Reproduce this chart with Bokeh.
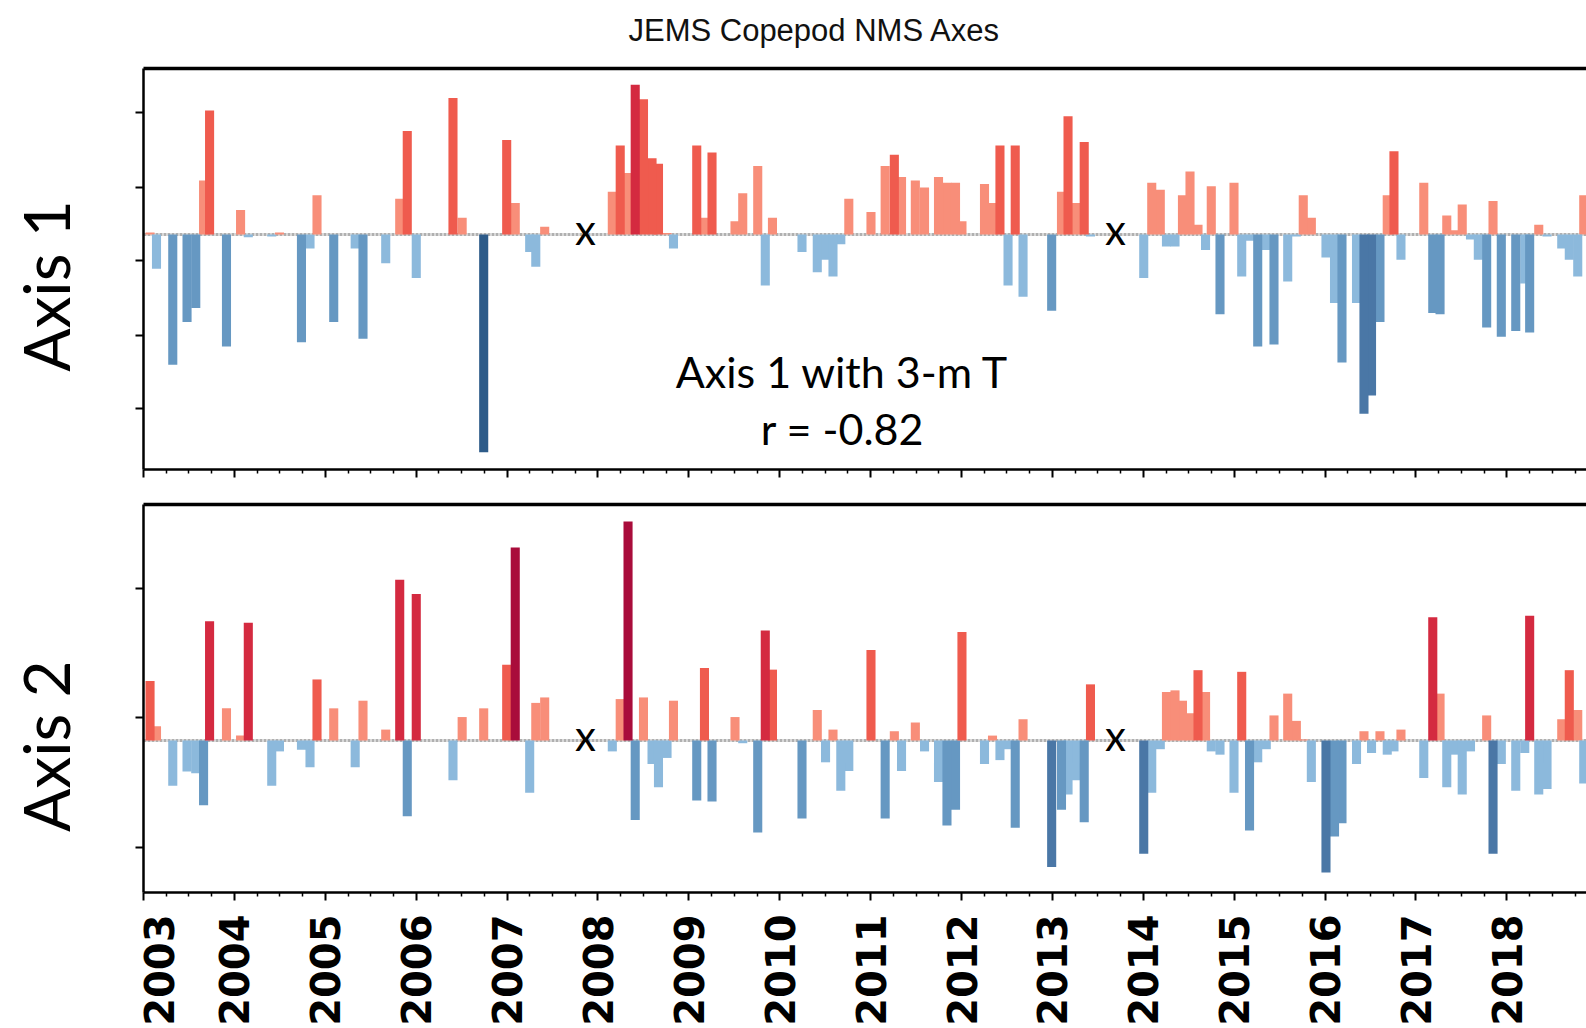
from math import pi

from bokeh.core.properties import value
from bokeh.embed import file_html
from bokeh.layouts import column, row
from bokeh.models import (ColumnDataSource, FixedTicker, Label, LinearAxis,
                          Range1d, Span)
from bokeh.plotting import figure
from bokeh.resources import INLINE

# ---- data: cruise sample dates (decimal years) and NMS scores ----
sample_dates = [
    2003.072, 2003.143, 2003.322, 2003.479, 2003.575, 2003.661, 2003.727, 2003.913,
    2004.068, 2004.153, 2004.411, 2004.496, 2004.738, 2004.832, 2004.909,
    2005.093, 2005.329, 2005.415, 2005.665, 2005.819, 2005.902,
    2006.001, 2006.405, 2006.506, 2006.743, 2006.996,
    2007.090, 2007.249, 2007.316, 2007.414,
    2008.158, 2008.245, 2008.331, 2008.410, 2008.501, 2008.595, 2008.666, 2008.760, 2008.831,
    2009.087, 2009.172, 2009.255, 2009.508, 2009.593, 2009.758, 2009.841, 2009.920,
    2010.245, 2010.413, 2010.504, 2010.586, 2010.672, 2010.760,
    2011.004, 2011.160, 2011.261, 2011.340, 2011.492, 2011.593, 2011.747, 2011.840, 2011.934,
    2012.005, 2012.253, 2012.341, 2012.423, 2012.512, 2012.591, 2012.677, 2012.992,
    2013.100, 2013.172, 2013.265, 2013.350, 2013.419,
    2014.005, 2014.093, 2014.187, 2014.255, 2014.349, 2014.431, 2014.514, 2014.602,
    2014.685, 2014.748, 2014.844, 2014.998,
    2015.083, 2015.169, 2015.259, 2015.353, 2015.438, 2015.589, 2015.684, 2015.760, 2015.849,
    2016.010, 2016.104, 2016.186, 2016.346, 2016.428, 2016.511, 2016.604, 2016.684, 2016.758,
    2016.835,
    2017.086, 2017.185, 2017.265, 2017.339, 2017.430, 2017.509, 2017.600, 2017.686, 2017.778,
    2017.848, 2017.939,
    2018.098, 2018.197, 2018.251, 2018.351, 2018.442, 2018.604, 2018.687, 2018.780, 2018.846,
]

axis1_scores = [
    0.03, -0.49, -1.86, -1.25, -1.05, 0.77, 1.77, -1.60,
    0.35, -0.04, -0.03, 0.03, -1.54, -0.20, 0.56,
    -1.25, -0.20, -1.49, -0.41, 0.51, 1.48,
    -0.62, 1.95, 0.24, -3.11, 1.35,
    0.45, -0.25, -0.46, 0.11,
    0.61, 1.27, 0.88, 2.14, 1.93, 1.09, 1.01, 0.02, -0.20,
    1.27, 0.24, 1.17, 0.19, 0.59, 0.98, -0.73, 0.24,
    -0.25, -0.54, -0.36, -0.60, -0.14, 0.51,
    0.32, 0.98, 1.14, 0.82, 0.77, 0.67, 0.82, 0.74, 0.74,
    0.19, 0.72, 0.45, 1.27, -0.73, 1.27, -0.89, -1.09,
    0.61, 1.69, 0.45, 1.32, -0.03,
    -0.62, 0.74, 0.64, -0.17, -0.17, 0.56, 0.90, 0.14,
    -0.22, 0.69, -1.14, 0.74,
    -0.60, -0.09, -1.60, -0.22, -1.57, -0.67, -0.03, 0.56, 0.24,
    -0.33, -0.98, -1.83, -0.98, -2.56, -2.30, -1.25, 0.56, 1.19,
    -0.36,
    0.74, -1.12, -1.14, 0.27, 0.06, 0.43, -0.07, -0.36, -1.33,
    0.48, -1.46,
    -1.38, -0.70, -1.40, 0.14, -0.03, -0.20, -0.36, -0.60, 0.56,
]

axis2_scores = [
    1.09, 0.26, -0.83, -0.57, -0.60, -1.19, 2.19, 0.59,
    0.09, 2.16, -0.83, -0.20, -0.17, -0.49, 1.12,
    0.59, -0.49, 0.73, 0.20, 2.95, -1.39,
    2.69, -0.73, 0.43, 0.59, 1.39,
    3.54, -0.96, 0.69, 0.79,
    -0.20, 0.76, 4.02, -1.46, 0.79, -0.43, -0.86, -0.32, 0.73,
    -1.10, 1.33, -1.12, 0.43, -0.05, -1.69, 2.02, 1.30,
    -1.43, 0.56, -0.40, 0.20, -0.92, -0.56,
    1.66, -1.43, 0.17, -0.56, 0.33, -0.20, -0.76, -1.56, -1.27,
    1.99, -0.43, 0.09, -0.36, -0.16, -1.60, 0.39, -2.32,
    -1.27, -0.99, -0.73, -1.50, 1.03,
    -2.08, -0.96, -0.16, 0.89, 0.92, 0.73, 0.50, 1.29,
    0.89, -0.20, -0.26, -0.96,
    1.26, -1.65, -0.40, -0.16, 0.46, 0.86, 0.36, 0.02, -0.76,
    -2.42, -1.76, -1.52, -0.43, 0.17, -0.23, 0.17, -0.26, -0.20,
    0.20,
    -0.69, 2.26, 0.86, -0.86, -0.26, -0.99, -0.20, 0.00, 0.46,
    -2.08, -0.43,
    -0.92, -0.23, 2.29, -0.99, -0.89, 0.39, 1.29, 0.56, -0.79,
]

gap_dates = [2007.863, 2013.694]          # periods without sampling
years = list(range(2003, 2019))
axis1_ticks = [1.739, 0.676, -0.376, -1.439, -2.490]
axis2_ticks = [2.794, 0.428, -1.958]

# ---- styling / geometry ----
BLUES = ["#8cb9dc", "#6698c2", "#4a77a6", "#2d5b89"]
REDS = ["#f88e79", "#ef5b4e", "#d42a40", "#a90c3b"]
PX_PER_YEAR = 90.89
LEFT = 143                                # left edge of the panels
X0 = 2003.0
X1 = X0 + (1586 - LEFT) / PX_PER_YEAR
XL = X0 - LEFT / PX_PER_YEAR              # page left edge in years
LABEL_W = 120
quarters = [y + q / 4 for y in years for q in (1, 2, 3)]


def bar_color(v):
    tier = min(int(abs(v)), 3)
    return REDS[tier] if v >= 0 else BLUES[tier]


def blank(width, height, x_range, y_range):
    p = figure(width=width, height=height, x_range=x_range, y_range=y_range,
               output_backend="svg", toolbar_location=None,
               x_axis_location=None, y_axis_location=None, min_border=0)
    p.outline_line_color = None
    p.grid.visible = False
    return p


def make_panel(scores, height, top_border, bottom_border, y_lo, y_hi, yticks):
    p = figure(width=1586 - LABEL_W, height=height,
               x_range=Range1d(X0, X1), y_range=Range1d(y_lo, y_hi),
               output_backend="svg", toolbar_location=None,
               x_axis_location=None, y_axis_location=None,
               min_border_left=LEFT - LABEL_W, min_border_right=0,
               min_border_top=top_border, min_border_bottom=bottom_border)
    p.outline_line_color = None
    p.grid.visible = False

    hidden = dict(major_label_text_font_size="1px", major_label_text_color=None,
                  major_label_standoff=0)
    xa = LinearAxis(ticker=FixedTicker(ticks=years, minor_ticks=quarters),
                    axis_line_width=2.5, axis_line_color="black",
                    major_tick_in=0, major_tick_out=8, major_tick_line_width=2,
                    minor_tick_in=0, minor_tick_out=4, minor_tick_line_width=1.5,
                    **hidden)
    p.add_layout(xa, "below")

    top = LinearAxis(ticker=FixedTicker(ticks=[]),
                     axis_line_width=3.5, axis_line_color="black",
                     major_tick_line_color=None, minor_tick_line_color=None,
                     **hidden)
    p.add_layout(top, "above")

    ya = LinearAxis(ticker=FixedTicker(ticks=yticks),
                    axis_line_width=2.5, axis_line_color="black",
                    major_tick_in=0, major_tick_out=8, major_tick_line_width=2,
                    minor_tick_line_color=None, **hidden)
    p.add_layout(ya, "left")

    p.add_layout(Span(location=0, dimension="width", line_color="#b0b0b0",
                      line_width=3, line_dash="3 1", level="underlay"))

    order = sorted(range(len(scores)), key=lambda i: abs(scores[i]))
    src = ColumnDataSource(dict(
        x=[sample_dates[i] for i in order],
        top=[scores[i] for i in order],
        color=[bar_color(scores[i]) for i in order],
    ))
    p.vbar(x="x", top="top", bottom=0, width=0.1, fill_color="color",
           line_color=None, source=src)

    p.text(x=gap_dates, y=[0] * len(gap_dates), text=["x"] * len(gap_dates),
           y_offset=-5, text_font=value("Lato"), text_font_size="42px",
           text_color="black", text_align="center", text_baseline="middle")
    return p


def side_label(text, height, y):
    s = blank(LABEL_W, height, Range1d(0, LABEL_W), Range1d(height, 0))
    s.text(x=[44.5], y=[y], text=[text], angle=pi / 2,
           text_font=value("Lato"), text_font_size="64px", text_color="black",
           text_align="center", text_baseline="middle")
    return s


# title strip
title_fig = blank(1586, 62, Range1d(XL, X1), Range1d(62, 0))
title_fig.text(x=[2010.383], y=[30], text=["JEMS Copepod NMS Axes"],
               text_font=value("Liberation Sans"), text_font_size="31px",
               text_color="#111111", text_align="center", text_baseline="middle")

# Axis 1 panel
p1 = make_panel(axis1_scores, 425, 6, 18, -3.357, 2.371, axis1_ticks)
p1.add_layout(Label(x=2010.691, y=-1.957, text="Axis 1 with 3-m T",
                    text_font="Lato", text_font_size="43px", text_color="black",
                    text_align="center", text_baseline="middle"))
p1.add_layout(Label(x=2010.691, y=-2.771, text="r = -0.82",
                    text_font="Lato", text_font_size="43px", text_color="black",
                    text_align="center", text_baseline="middle"))
row1 = row(side_label("Axis 1", 425, 230.5), p1, spacing=0)

# Axis 2 panel
p2 = make_panel(axis2_scores, 415, 17, 10, -2.789, 4.330, axis2_ticks)
row2 = row(side_label("Axis 2", 415, 258.5), p2, spacing=0)

# year labels under the panels
year_fig = blank(1586, 126, Range1d(XL, X1), Range1d(126, 0))
year_fig.text(x=years, y=[12] * len(years), text=[str(y) for y in years],
              x_offset=[15 if y == years[0] else 0 for y in years],
              angle=pi / 2, text_font=value("DejaVu Sans"), text_font_style="bold",
              text_font_size="40px", text_color="black",
              text_align="right", text_baseline="middle")

layout = column(title_fig, row1, row2, year_fig, spacing=0)
open("out.html", "w").write(file_html(layout, INLINE))
